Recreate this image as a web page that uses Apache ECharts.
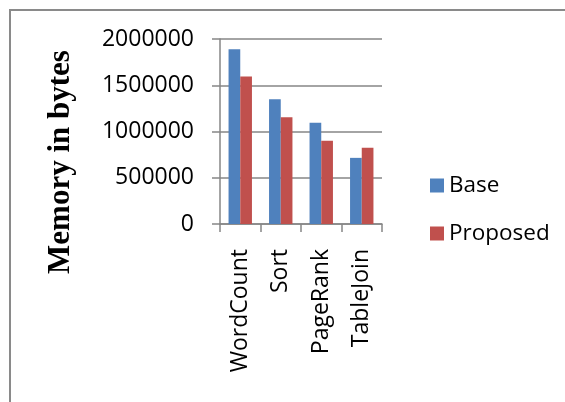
<!DOCTYPE html>
<html>
<head>
<meta charset="utf-8">
<script src="https://cdn.jsdelivr.net/npm/echarts@6/dist/echarts.min.js"></script>
<style>
  html, body { margin: 0; padding: 0; background: #fff; }
  #main { width: 565px; height: 402px; }
</style>
</head>
<body>
<div id="main"></div>
<script>
var categories = ['WordCount', 'Sort', 'PageRank', 'TableJoin'];
var baseValues = [1890000, 1350000, 1095000, 715000];
var proposedValues = [1595000, 1155000, 900000, 825000];
var yTicks = [0, 500000, 1000000, 1500000, 2000000];

var myChart = echarts.init(document.getElementById('main'));
var labelFont = '"Open Sans", sans-serif';
var option = {
    backgroundColor: '#fff',
    animation: false,
    graphic: [
        {
            // outer frame, only left and top edges visible
            type: 'rect',
            shape: { x: 10, y: 10, width: 620, height: 460 },
            style: { fill: null, stroke: '#8a8a8a', lineWidth: 2 }
        },
        {
            type: 'text',
            x: 61, y: 162,
            rotation: Math.PI / 2,
            style: {
                text: 'Memory in bytes',
                font: 'bold 31px "Liberation Serif", serif',
                fill: '#000',
                align: 'center',
                verticalAlign: 'middle'
            }
        }
    ],
    legend: {
        orient: 'vertical',
        left: 425,
        top: 169,
        itemWidth: 14,
        itemHeight: 14,
        itemGap: 25,
        icon: 'rect',
        textStyle: { fontFamily: labelFont, fontSize: 22.5, color: '#000' },
        data: ['Base', 'Proposed']
    },
    grid: {
        left: 220,
        right: 183,
        top: 39,
        bottom: 178,
        containLabel: false
    },
    xAxis: {
        type: 'category',
        data: categories,
        axisLine: { lineStyle: { color: '#868686', width: 1.5 } },
        axisTick: { show: true, alignWithLabel: false, length: 8, lineStyle: { color: '#868686', width: 1.5 } },
        axisLabel: { rotate: 90, margin: 25, fontFamily: labelFont, fontSize: 23, color: '#000' }
    },
    yAxis: {
        type: 'value',
        min: yTicks[0],
        max: yTicks[yTicks.length - 1],
        interval: yTicks[1] - yTicks[0],
        axisLine: { show: true, lineStyle: { color: '#868686', width: 1.5 } },
        axisTick: { show: true, length: 8, lineStyle: { color: '#868686', width: 1.5 } },
        splitLine: { show: true, lineStyle: { color: '#868686', width: 1.5 } },
        axisLabel: {
            margin: 26,
            fontFamily: labelFont,
            fontSize: 23,
            color: '#000',
            formatter: function (v) { return String(v); }
        }
    },
    series: [
        {
            name: 'Base',
            type: 'bar',
            barWidth: 11.7,
            barGap: '0%',
            itemStyle: { color: '#4F81BD' },
            data: baseValues
        },
        {
            name: 'Proposed',
            type: 'bar',
            barWidth: 11.7,
            barGap: '0%',
            itemStyle: { color: '#C0504D' },
            data: proposedValues
        }
    ]
};
myChart.setOption(option);
</script>
</body>
</html>
